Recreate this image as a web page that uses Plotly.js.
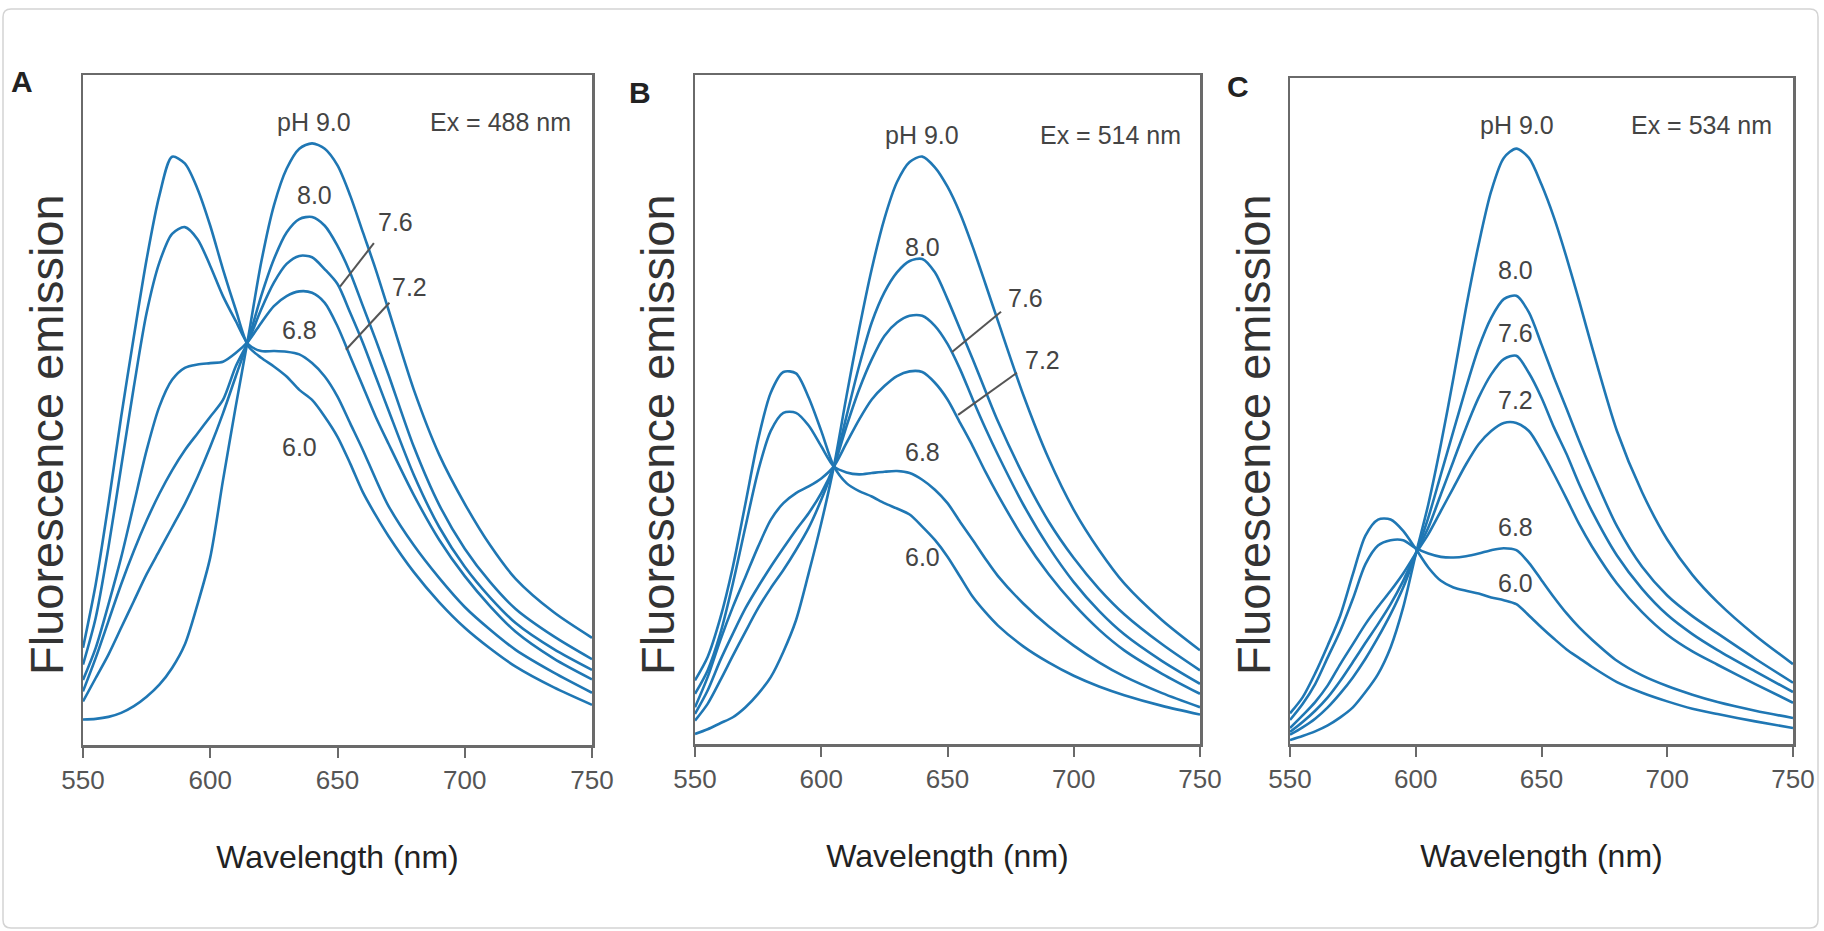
<!DOCTYPE html>
<html>
<head>
<meta charset="utf-8">
<script src="https://cdn.plot.ly/plotly-3.0.1.min.js"></script>
<style>html,body{margin:0;padding:0;background:#fff;}#chart{width:1824px;height:931px;}</style>
</head>
<body>
<div id="chart"></div>
<script>
// Wavelength grid (nm)
const wl = [550,555,560,565,570,575,580,585,590,595,600,605,610,615,620,625,630,635,640,645,650,655,660,665,670,680,690,700,710,720,735,750];
const phLabels = ["9.0","8.0","7.6","7.2","6.8","6.0"];
const xTicks = [550,600,650,700,750];

// Panel A (Ex = 488 nm), fluorescence emission, arbitrary units
const a90 = [3.8,3.9,4.2,4.8,5.8,7.2,9.0,11.5,15,21,28,39.5,50.5,61,72,80.5,86,89,89.8,89,86.5,82,76.5,71,65,53,43.3,36,29.8,24.8,19.8,16];
const a80 = [6.5,10,13.5,17.5,21.5,25.5,29,32.5,36,40,44.5,49.5,55,60.5,67,72.5,76.5,78.5,78.8,77.5,74.5,70.5,65.5,60.5,55.3,44.5,35.8,29.3,24.3,20.3,16.2,12.8];
const a76 = [8,13,18.5,24,29,33.5,37.5,41,44,46.5,49,51.5,56.5,60.3,65,69,71.8,73,72.8,71,68.8,64.5,60,55,50,40.3,32.5,26.6,22,18.2,14.3,11.2];
const a72 = [9.7,14.5,21,28,36,44,50.5,54.5,56.3,56.8,57,57.2,58.5,60.3,63,65.5,67,67.7,67.5,66,62.5,58,53.5,49,45,37.3,30.6,25.2,20.7,16.9,12.9,9.8];
const a68 = [12,19,29.5,41.5,53.5,64.5,72,76.3,77.3,75.5,71.5,67,63.3,59.8,58.8,58.8,58.7,58.3,57,55,52,48,44,39.7,35.7,29.8,24.9,20.6,17.2,14.2,10.8,7.8];
const a60 = [14.5,24,36,49,61,72.5,82,87.8,86.8,83,77.5,71,65,59.5,57.8,56.5,55,53,51.5,49,46,42,37.7,34.3,31.2,25.8,21.3,17.5,14.4,11.7,8.6,6];

// Panel B (Ex = 514 nm)
const b90 = [1.5,2.2,3.1,4,5.5,7.5,10,13.8,18.5,25.5,33,41.5,52,62,71,78.5,84,87,87.8,86.2,83.3,79.3,74.3,68.8,63.2,52.2,42.7,35,29,24,18.5,14];
const b80 = [3.5,6,9.5,13.2,16.8,20.3,23.3,26,29,32.3,36.5,41.5,49,56.5,63,67.5,70.5,72.2,72.5,70.5,66.5,62,57.5,52.8,48.2,40.2,33.3,27.8,23.2,19.4,14.9,11];
const b76 = [4.5,8,12.5,16.5,20.3,23.5,26.5,29.3,32,34.5,37.5,41.5,47.5,53,57.5,61,63,64,64,62.5,59.8,56,51.5,47.2,43.2,35.8,29.5,24.2,19.9,16.4,12.4,9];
const b72 = [5.5,10,15.5,20.5,25,29.5,33.5,36,37.5,38.5,39.7,41.5,45,48.5,51.5,53.5,55,55.7,55.6,54,51.5,48,44.5,40.7,37.2,30.8,25.4,20.9,17.1,14,10.5,7.5];
const b68 = [7.5,11,16.5,24,32.5,40.8,46.8,49.5,49.5,47.6,44.5,41.5,40.6,40.3,40.5,40.7,40.8,40.5,39.5,38,36,33.2,30.5,27.7,25.1,21,17.6,14.7,12.2,10.1,7.6,5.5];
const b60 = [9.5,13,18.8,26.5,36,45.5,52.5,55.6,55.4,51.8,46.8,41.5,39,37.8,37,36,35.2,34.3,32.5,30.5,28,25,22,19.7,17.7,14.6,12.2,10.2,8.6,7.3,5.7,4.4];

// Panel C (Ex = 534 nm)
const c90 = [0.6,1.2,1.9,2.8,4,5.5,7.8,10.5,14.5,20.5,28.5,36,45,55,65.5,75,83,88,89.4,88,84,79,73,66.5,59.7,47,37.8,30.7,25.4,21.3,16.3,12];
const c80 = [1.4,2.5,3.8,5.5,7.6,10,12.8,16,19.5,23.5,28.5,34,40.5,47,53.5,59.5,64,66.8,67.3,64.8,60,55,50.3,45.5,41,32.7,26.6,22.3,19.2,16.6,12.8,9.2];
const c76 = [1.8,3.3,5,7,9.5,12.3,15.2,18,21,24.5,28.6,32.5,37.5,42.5,47.5,52,55.5,57.8,58.3,55.7,52,47.5,43.5,39,35,28.3,23.3,19.4,16.5,14.1,10.9,7.8];
const c72 = [2.4,4.3,6.3,8.8,12,15,18,20.6,23,25.6,28.6,31.5,35,38.5,42,45,47,48.2,48.2,47,44,40.5,36.8,33,29.7,24.1,19.8,16.4,13.9,11.9,9,6.2];
const c68 = [3.6,6,9,13,17,21.8,27,29.8,30.6,30.6,29.4,28.6,28.1,28,28.2,28.6,29.1,29.4,29.1,27.2,24.6,22,19.6,17.5,15.7,12.5,10.3,8.7,7.4,6.3,5,3.9];
const c60 = [4.6,7,10.6,14.8,19.3,25.5,31.3,33.7,33.7,32,29.3,26.5,24.5,23.5,23,22.6,22,21.6,21,19.3,17.5,15.8,14.2,12.9,11.6,9.3,7.7,6.4,5.3,4.5,3.4,2.4];

const panels = [
  {ax: "", series: [a90,a80,a76,a72,a68,a60]},
  {ax: "2", series: [b90,b80,b76,b72,b68,b60]},
  {ax: "3", series: [c90,c80,c76,c72,c68,c60]}
];

const lineColor = "#1f77b4";
const FONT = "Liberation Sans, Arial, Helvetica, sans-serif";

const traces = [];
panels.forEach(p => {
  p.series.forEach((ys, i) => {
    traces.push({
      type: "scatter", mode: "lines",
      x: wl, y: ys,
      name: "pH " + phLabels[i],
      xaxis: "x" + p.ax, yaxis: "y" + p.ax,
      line: {color: lineColor, width: 2.6, shape: "spline", smoothing: 0.8},
      hoverinfo: "skip"
    });
  });
});

function xAxis(domain, anchor) {
  return {
    domain: domain, anchor: anchor, range: [550, 750],
    tickmode: "array", tickvals: xTicks, ticktext: xTicks.map(String),
    ticks: "outside", ticklen: 10, tickwidth: 2, tickcolor: "#6a6a6a",
    showline: true, mirror: true, linecolor: "#6a6a6a", linewidth: 2.5,
    showgrid: false, zeroline: false,
    tickfont: {family: FONT, size: 26, color: "#555"},
    title: {text: "Wavelength (nm)", font: {family: FONT, size: 32, color: "#222"}, standoff: 52}
  };
}
function yAxis(domain, anchor) {
  return {
    domain: domain, anchor: anchor, range: [0, 100],
    showticklabels: false, ticks: "",
    showline: true, mirror: true, linecolor: "#6a6a6a", linewidth: 2.5,
    showgrid: false, zeroline: false
  };
}

const W = 1824, H = 931;
const layout = {
  width: W, height: H,
  margin: {l: 0, r: 0, t: 0, b: 0},
  paper_bgcolor: "#fff", plot_bgcolor: "#fff",
  showlegend: false,
  font: {family: FONT},
  xaxis: xAxis([83/W, 592/W], "y"),
  yaxis: yAxis([1-745/H, 1-75/H], "x"),
  xaxis2: xAxis([695/W, 1200/W], "y2"),
  yaxis2: yAxis([1-744/H, 1-75/H], "x2"),
  xaxis3: xAxis([1290/W, 1793/W], "y3"),
  yaxis3: yAxis([1-744/H, 1-78/H], "x3"),
  annotations: [],
  shapes: []
};

// Y-axis titles (rotated)
[47, 658, 1254].forEach(px => {
  layout.annotations.push({text: "Fluorescence emission", xref: "paper", yref: "paper",
    x: px/W, y: 1 - 435/H, textangle: -90, showarrow: false, xanchor: "center", yanchor: "middle",
    font: {family: FONT, size: 47, color: "#333"}});
});

// Panel letters
[["A", 22, 82], ["B", 640, 92], ["C", 1238, 86]].forEach(l => {
  layout.annotations.push({text: "<b>" + l[0] + "</b>", xref: "paper", yref: "paper",
    x: l[1]/W, y: 1 - l[2]/H, showarrow: false, xanchor: "center", yanchor: "middle",
    font: {family: FONT, size: 30, color: "#222"}});
});

// In-plot labels: [text, x(nm), y(units)]
const labelsA = [["pH 9.0",640.8,93],["Ex = 488 nm",713.9,93],["8.0",640.8,82.1],["7.6",672.6,78.1],["7.2",678.1,68.4],["6.8",634.9,61.9],["6.0",634.9,44.5]];
const labelsB = [["pH 9.0",639.9,91],["Ex = 514 nm",714.4,91],["8.0",639.9,74.3],["7.6",680.7,66.7],["7.2",687.8,57.4],["6.8",639.9,43.6],["6.0",639.9,28]];
const labelsC = [["pH 9.0",640.3,92.9],["Ex = 534 nm",713.8,92.9],["8.0",639.5,71.2],["7.6",639.5,61.7],["7.2",639.5,51.7],["6.8",639.5,32.6],["6.0",639.5,24.2]];
// Leader lines: [x0, y0, x1, y1]
const leadersA = [[651,68.4,664.3,74.9],[653.3,59,670.4,66]];
const leadersB = [[651.8,58.6,671.2,64.6],[654.2,49.2,677.5,55.5]];

[[labelsA,""],[labelsB,"2"],[labelsC,"3"]].forEach(([labs, ax]) => {
  labs.forEach(l => {
    layout.annotations.push({text: l[0], xref: "x" + ax, yref: "y" + ax, x: l[1], y: l[2],
      showarrow: false, xanchor: "center", yanchor: "middle",
      font: {family: FONT, size: 25, color: "#444"}});
  });
});
[[leadersA,""],[leadersB,"2"]].forEach(([lds, ax]) => {
  lds.forEach(s => {
    layout.shapes.push({type: "line", xref: "x" + ax, yref: "y" + ax,
      x0: s[0], y0: s[1], x1: s[2], y1: s[3], line: {color: "#555", width: 2}});
  });
});

// Outer card border (rounded)
(function(){
  const x0 = 3/W, x1 = 1818/W, y0 = 1 - 928/H, y1 = 1 - 9/H, rx = 8/W, ry = 8/H;
  const path = `M ${x0+rx},${y1} L ${x1-rx},${y1} Q ${x1},${y1} ${x1},${y1-ry} L ${x1},${y0+ry} Q ${x1},${y0} ${x1-rx},${y0} L ${x0+rx},${y0} Q ${x0},${y0} ${x0},${y0+ry} L ${x0},${y1-ry} Q ${x0},${y1} ${x0+rx},${y1} Z`;
  layout.shapes.push({type: "path", xref: "paper", yref: "paper", path: path,
    line: {color: "#d4d4d4", width: 1.5}, layer: "below"});
})();

Plotly.newPlot("chart", traces, layout, {displayModeBar: false, staticPlot: true});
</script>
</body>
</html>
